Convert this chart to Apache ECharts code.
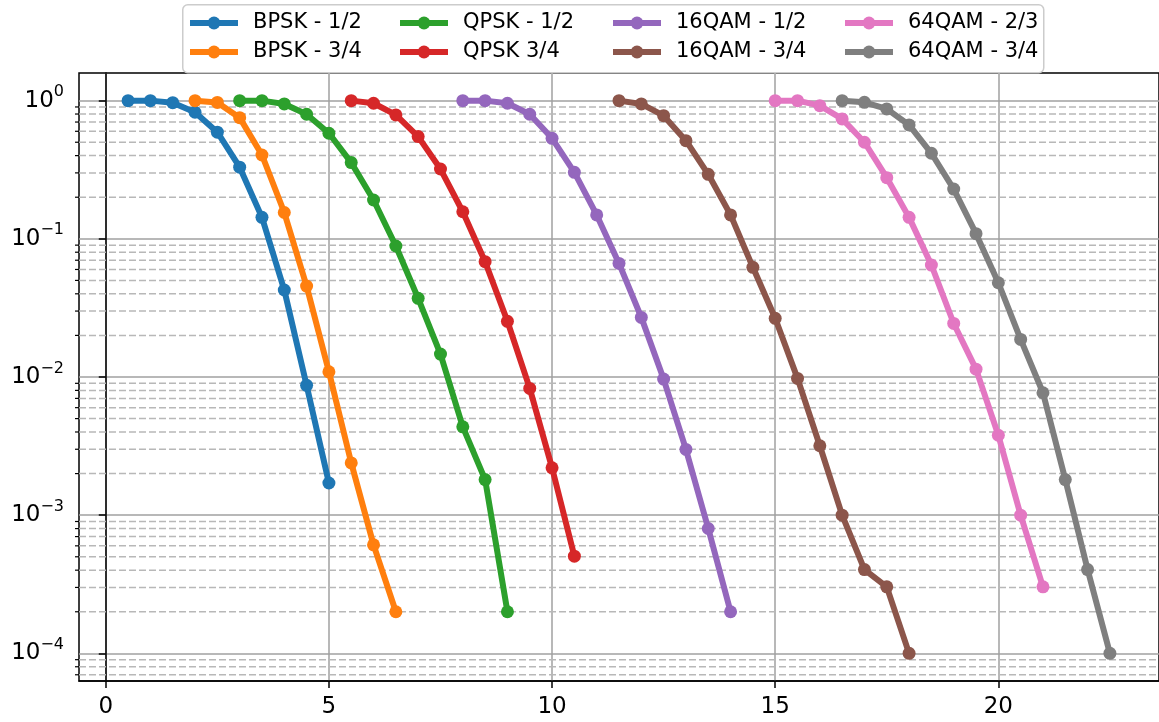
<!DOCTYPE html>
<html>
<head>
<meta charset="utf-8">
<title>BER vs SNR</title>
<script src="https://cdn.jsdelivr.net/npm/echarts@6/dist/echarts.min.js"></script>
<style>
  html, body { margin: 0; padding: 0; background: #fff; }
  #chart { width: 1159px; height: 722px; }
</style>
</head>
<body>
<div id="chart"></div>
<script>
// series names, in plotting order
const names = ['BPSK - 1/2', 'BPSK - 3/4', 'QPSK - 1/2', 'QPSK 3/4',
               '16QAM - 1/2', '16QAM - 3/4', '64QAM - 2/3', '64QAM - 3/4'];
// matplotlib tab10
const colors = ['#1f77b4', '#ff7f0e', '#2ca02c', '#d62728',
                '#9467bd', '#8c564b', '#e377c2', '#7f7f7f'];

// SNR (dB) / BER
const snrBpsk12 = [0.5, 1, 1.5, 2, 2.5, 3, 3.5, 4, 4.5, 5];
const berBpsk12 = [1, 1, 0.967, 0.824, 0.591, 0.33, 0.143, 0.0426, 0.0087, 0.00171];

const snrBpsk34 = [2, 2.5, 3, 3.5, 4, 4.5, 5, 5.5, 6, 6.5];
const berBpsk34 = [1, 0.97, 0.753, 0.404, 0.155, 0.0455, 0.0109, 0.00239, 0.00061, 0.0002];

const snrQpsk12 = [3, 3.5, 4, 4.5, 5, 5.5, 6, 6.5, 7, 7.5, 8, 8.5, 9];
const berQpsk12 = [1, 1, 0.946, 0.797, 0.581, 0.356, 0.191, 0.0887, 0.0371, 0.01465, 0.00436, 0.00181, 0.0002];

const snrQpsk34 = [5.5, 6, 6.5, 7, 7.5, 8, 8.5, 9, 9.5, 10, 10.5];
const berQpsk34 = [1, 0.957, 0.788, 0.549, 0.32, 0.157, 0.0683, 0.0253, 0.00827, 0.0022, 0.000505];

const snr16qam12 = [8, 8.5, 9, 9.5, 10, 10.5, 11, 11.5, 12, 12.5, 13, 13.5, 14];
const ber16qam12 = [1, 1, 0.957, 0.797, 0.534, 0.303, 0.149, 0.0664, 0.027, 0.00966, 0.00299, 0.000801, 0.0002];

const snr16qam34 = [11.5, 12, 12.5, 13, 13.5, 14, 14.5, 15, 15.5, 16, 16.5, 17, 17.5, 18];
const ber16qam34 = [1, 0.946, 0.778, 0.513, 0.293, 0.149, 0.0622, 0.0266, 0.00977, 0.00318, 0.001, 0.000404, 0.000303, 0.0001];

const snr64qam23 = [15, 15.5, 16, 16.5, 17, 17.5, 18, 18.5, 19, 19.5, 20, 20.5, 21];
const ber64qam23 = [1, 1, 0.92, 0.737, 0.5, 0.277, 0.143, 0.0646, 0.0244, 0.0114, 0.00379, 0.001, 0.000303];

const snr64qam34 = [16.5, 17, 17.5, 18, 18.5, 19, 19.5, 20, 20.5, 21, 21.5, 22, 22.5];
const ber64qam34 = [1, 0.973, 0.871, 0.667, 0.416, 0.229, 0.109, 0.0481, 0.0187, 0.00769, 0.00181, 0.000404, 0.0001];

const snrList = [snrBpsk12, snrBpsk34, snrQpsk12, snrQpsk34, snr16qam12, snr16qam34, snr64qam23, snr64qam34];
const berList = [berBpsk12, berBpsk34, berQpsk12, berQpsk34, ber16qam12, ber16qam34, ber64qam23, ber64qam34];

// tick labels
const xTicks = [0, 5, 10, 15, 20];
const yTicks = [1e-4, 1e-3, 1e-2, 1e-1, 1];

// axis ranges (matplotlib default 5% margins)
const X_MIN = -0.6, X_MAX = 23.6;
const Y_MIN = Math.pow(10, -4.2), Y_MAX = Math.pow(10, 0.2);

// minor grid positions 2..9 x 10^k inside the range
const minorValues = [];
for (let e = -5; e <= 0; e++) {
    for (let m = 2; m <= 9; m++) {
        const v = m * Math.pow(10, e);
        if (v > Y_MIN && v < Y_MAX) minorValues.push(v);
    }
}

const FONT = 'DejaVu Sans';

// legend columns (matplotlib ncol=4, filled by column)
const legendCols = [187, 397, 610, 842];

const chart = echarts.init(document.getElementById('chart'), null, { renderer: 'canvas' });

const lineSeries = names.map((name, i) => ({
    name: name,
    type: 'line',
    data: snrList[i].map((x, j) => [x, berList[i][j]]),
    symbol: 'circle',
    symbolSize: 13,
    showAllSymbol: true,
    color: colors[i],
    lineStyle: { width: 6, color: colors[i] },
    itemStyle: { color: colors[i] },
    emphasis: { disabled: true },
    z: 3 + i
}));

const minorSeries = {
    name: 'minor',
    type: 'custom',
    silent: true,
    clip: false,
    z: 1,
    data: minorValues.map(v => [X_MIN, v]),
    renderItem: function (params, api) {
        const v = api.value(1);
        const p0 = api.coord([X_MIN, v]);
        const p1 = api.coord([X_MAX, v]);
        return {
            type: 'group',
            children: [
                {
                    type: 'line',
                    shape: { x1: p0[0], y1: p0[1], x2: p1[0], y2: p1[1] },
                    style: { stroke: '#b8b8b8', lineWidth: 1.5, lineDash: [7, 3] }
                },
                {
                    type: 'line',
                    shape: { x1: p0[0] - 4, y1: p0[1], x2: p0[0], y2: p0[1] },
                    style: { stroke: '#000', lineWidth: 1.2 }
                }
            ]
        };
    }
};

const legends = legendCols.map((x, c) => ({
    data: [names[2 * c], names[2 * c + 1]],
    left: x,
    top: 11,
    orient: 'vertical',
    itemWidth: 48,
    itemHeight: 16,
    itemGap: 5,
    padding: 0,
    selectedMode: false,
    z: 20,
    lineStyle: { width: 6 },
    textStyle: {
        fontSize: 21,
        fontFamily: FONT,
        color: '#000',
        lineHeight: 24,
        padding: [0, 0, 0, 10]
    }
}));

const option = {
    animation: false,
    backgroundColor: '#fff',
    grid: {
        left: 79,
        top: 73,
        right: -3,
        bottom: 41,
        show: true,
        borderColor: '#000',
        borderWidth: 1.5,
        backgroundColor: 'transparent'
    },
    // legend frame
    graphic: [{
        type: 'rect',
        left: 182,
        top: 4,
        shape: { width: 861, height: 68, r: 5 },
        style: { fill: 'rgba(255,255,255,0.8)', stroke: '#cccccc', lineWidth: 1.5 },
        z: 15
    }],
    legend: legends,
    xAxis: {
        type: 'value',
        min: X_MIN,
        max: X_MAX,
        axisLine: { show: true, lineStyle: { color: '#000', width: 1.5 } },
        axisTick: {
            show: true, length: 7, lineStyle: { color: '#000', width: 1.5 },
            customValues: xTicks
        },
        axisLabel: {
            customValues: xTicks,
            margin: 15,
            fontSize: 23,
            fontFamily: FONT,
            color: '#000'
        },
        splitLine: { show: true, lineStyle: { color: '#a0a0a0', width: 1.5 } }
    },
    yAxis: {
        type: 'log',
        logBase: 10,
        min: Y_MIN,
        max: Y_MAX,
        axisLine: { show: true, lineStyle: { color: '#000', width: 1.5 } },
        axisTick: {
            show: true, length: 7, lineStyle: { color: '#000', width: 1.5 },
            customValues: yTicks
        },
        axisLabel: {
            customValues: yTicks,
            margin: 15,
            fontSize: 23,
            fontFamily: FONT,
            color: '#000',
            formatter: function (v) {
                const e = Math.round(Math.log10(v));
                return '{b|10}{s|' + (e < 0 ? '\u2212' + (-e) : e) + '}';
            },
            rich: {
                b: { fontSize: 23, fontFamily: FONT, color: '#000' },
                s: { fontSize: 16, fontFamily: FONT, color: '#000', padding: [0, 0, 17, 0] }
            }
        },
        splitLine: { show: true, lineStyle: { color: '#a0a0a0', width: 1.5 } }
    },
    series: [minorSeries].concat(lineSeries)
};

chart.setOption(option);
</script>
</body>
</html>
